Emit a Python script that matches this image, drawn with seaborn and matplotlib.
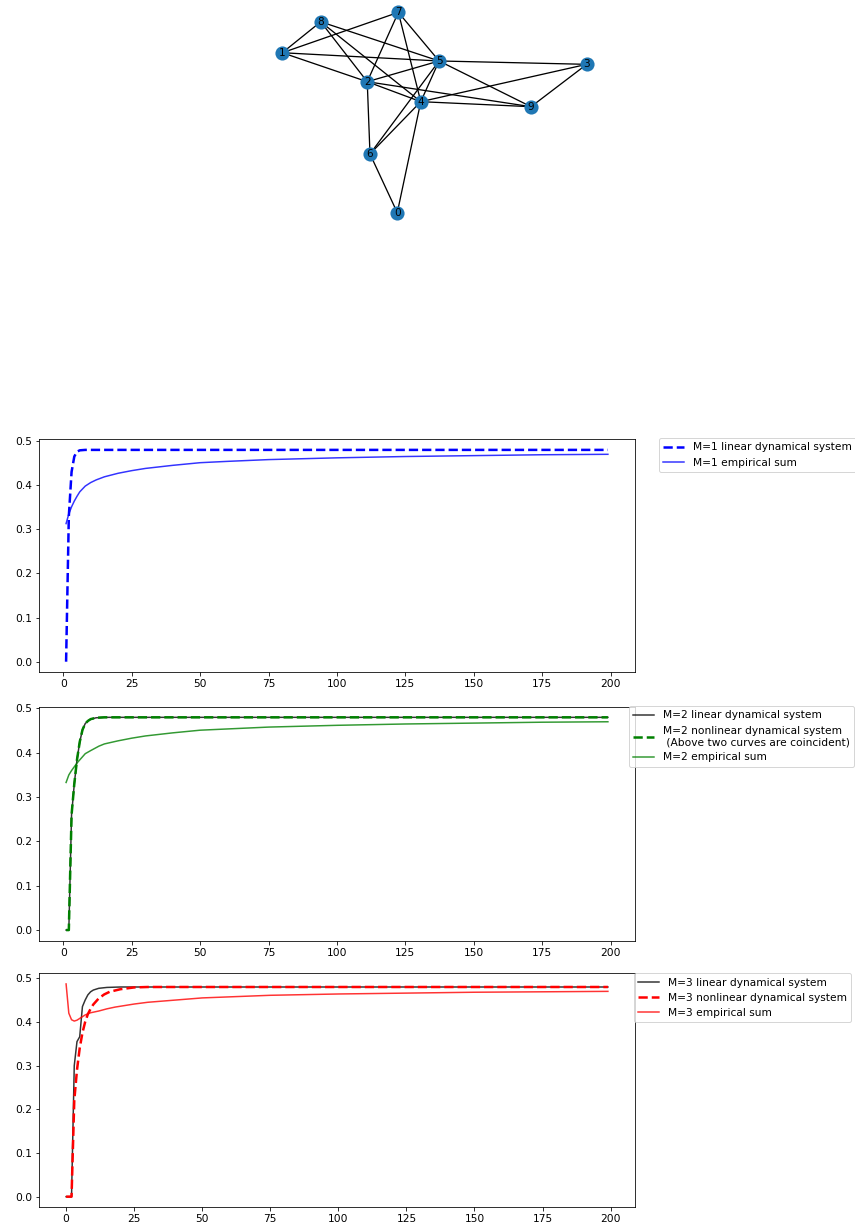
import numpy as np
import matplotlib
matplotlib.use("Agg")
import matplotlib.pyplot as plt
import seaborn as sns
from matplotlib.collections import LineCollection

plt.rcParams["font.size"] = 10.6

# ---------------- graph data (spring layout positions) ----------------
node_ids = [0, 1, 2, 3, 4, 5, 6, 7, 8, 9]
node_x = [-0.244, -0.998, -0.441, 0.998, -0.090, 0.030, -0.423, -0.237, -0.746, 0.633]
node_y = [-0.657, 0.392, 0.202, 0.316, 0.071, 0.338, -0.272, 0.657, 0.595, 0.038]
edges = [(8, 1), (1, 7), (1, 5), (1, 2), (8, 5), (8, 2), (8, 4), (7, 2), (7, 4),
         (7, 5), (5, 2), (5, 3), (5, 9), (5, 4), (5, 6), (2, 4), (2, 9), (2, 6),
         (4, 9), (4, 3), (4, 6), (4, 0), (6, 0), (3, 9)]

# ---------------- M=1 ----------------
t1_lin = [1, 2, 3, 4, 5, 6, 8, 199]
m1_lin = [0.0, 0.33, 0.43, 0.465, 0.476, 0.479, 0.48, 0.48]
t1_emp = [1, 2, 3, 4, 5, 6, 8, 10, 12, 15, 20, 25, 30, 40, 50, 60, 75, 100, 125, 150, 175, 199]
m1_emp = [0.313, 0.335, 0.351, 0.364, 0.375, 0.385, 0.398, 0.406, 0.412, 0.419, 0.427,
          0.433, 0.438, 0.445, 0.451, 0.454, 0.458, 0.462, 0.465, 0.467, 0.469, 0.470]

# ---------------- M=2 ----------------
t2_lin = [1, 2, 3, 4, 5, 6, 7, 8, 9, 10, 12, 15, 199]
m2_lin = [0.0, 0.0, 0.26, 0.33, 0.385, 0.425, 0.452, 0.466, 0.472, 0.476, 0.479, 0.48, 0.48]
m2_nonlin = [0.0, 0.0, 0.26, 0.33, 0.385, 0.425, 0.452, 0.466, 0.472, 0.476, 0.479, 0.48, 0.48]
t2_emp = [1, 2, 3, 5, 8, 10, 13, 15, 20, 25, 30, 40, 50, 75, 100, 125, 150, 175, 199]
m2_emp = [0.333, 0.350, 0.360, 0.377, 0.398, 0.405, 0.415, 0.420, 0.427, 0.433, 0.438,
          0.445, 0.451, 0.458, 0.462, 0.465, 0.467, 0.469, 0.470]

# ---------------- M=3 ----------------
t3_lin = [0, 1, 2, 3, 4, 5, 6, 7, 8, 9, 10, 12, 15, 20, 199]
m3_lin = [0.0, 0.0, 0.0, 0.30, 0.355, 0.366, 0.435, 0.45, 0.462, 0.469, 0.473, 0.477, 0.479, 0.48, 0.48]
t3_nonlin = [0, 1, 2, 3, 4, 5, 6, 7, 8, 9, 10, 12, 14, 16, 20, 25, 30, 199]
m3_nonlin = [0.0, 0.0, 0.0, 0.22, 0.29, 0.34, 0.375, 0.40, 0.418, 0.43, 0.44, 0.454,
             0.463, 0.469, 0.475, 0.479, 0.48, 0.48]
t3_emp = [0, 1, 2, 3, 4, 5, 7, 9, 12, 15, 18, 20, 25, 30, 40, 50, 75, 100, 125, 150, 175, 199]
m3_emp = [0.487, 0.42, 0.405, 0.402, 0.404, 0.408, 0.416, 0.421, 0.425, 0.430, 0.434, 0.436,
          0.441, 0.445, 0.450, 0.455, 0.461, 0.464, 0.466, 0.468, 0.469, 0.470]

W, H = 855, 1226
fig = plt.figure(figsize=(W / 72, H / 72), dpi=72)

# ---------------- network ----------------
axg = fig.add_axes([262 / W, 1 - 225 / H, 345 / W, 225 / H])
segs = [[(node_x[a], node_y[a]), (node_x[b], node_y[b])] for a, b in edges]
axg.add_collection(LineCollection(segs, colors="k", linewidths=1.3, zorder=1))
sns.scatterplot(x=node_x, y=node_y, s=200, color="#1f77b4", linewidth=0, ax=axg, zorder=2)
for n, xx, yy in zip(node_ids, node_x, node_y):
    axg.text(xx, yy, str(n), ha="center", va="center", fontsize=10.5, zorder=3)
axg.set_xlim(-1.131, 1.131)
axg.set_ylim(-0.738, 0.738)
axg.axis("off")


def line_axes(top, bottom):
    return fig.add_axes([39 / W, 1 - bottom / H, 596 / W, (bottom - top) / H])


# ---------------- M=1 plot ----------------
ax1 = line_axes(439.3, 672.3)
sns.lineplot(x=t1_lin, y=m1_lin, color="blue", linestyle="--", linewidth=2.5,
             label="M=1 linear dynamical system", ax=ax1, errorbar=None)
sns.lineplot(x=t1_emp, y=m1_emp, color="blue", alpha=0.8, linewidth=1.5,
             label="M=1 empirical sum", ax=ax1, errorbar=None)
ax1.legend(loc="upper left", bbox_to_anchor=(1.04, 1.005), borderaxespad=0)

# ---------------- M=2 plot ----------------
ax2 = line_axes(706.7, 940.7)
sns.lineplot(x=t2_lin, y=m2_lin, color="k", alpha=0.8, linewidth=1.5,
             label="M=2 linear dynamical system", ax=ax2, errorbar=None)
sns.lineplot(x=t2_lin, y=m2_nonlin, color="green", linestyle="--", linewidth=2.5,
             label="M=2 nonlinear dynamical system\n (Above two curves are coincident)",
             ax=ax2, errorbar=None)
sns.lineplot(x=t2_emp, y=m2_emp, color="green", alpha=0.8, linewidth=1.5,
             label="M=2 empirical sum", ax=ax2, errorbar=None)
ax2.legend(loc="upper left", bbox_to_anchor=(0.99, 1.003), borderaxespad=0)

# ---------------- M=3 plot ----------------
ax3 = line_axes(973.3, 1207.3)
sns.lineplot(x=t3_lin, y=m3_lin, color="k", alpha=0.8, linewidth=1.5,
             label="M=3 linear dynamical system", ax=ax3, errorbar=None)
sns.lineplot(x=t3_nonlin, y=m3_nonlin, color="red", linestyle="--", linewidth=2.5,
             label="M=3 nonlinear dynamical system", ax=ax3, errorbar=None)
sns.lineplot(x=t3_emp, y=m3_emp, color="red", alpha=0.8, linewidth=1.5,
             label="M=3 empirical sum", ax=ax3, errorbar=None)
ax3.legend(loc="upper left", bbox_to_anchor=(0.998, 1.0), borderaxespad=0)

fig.savefig("out.png", dpi=72)
